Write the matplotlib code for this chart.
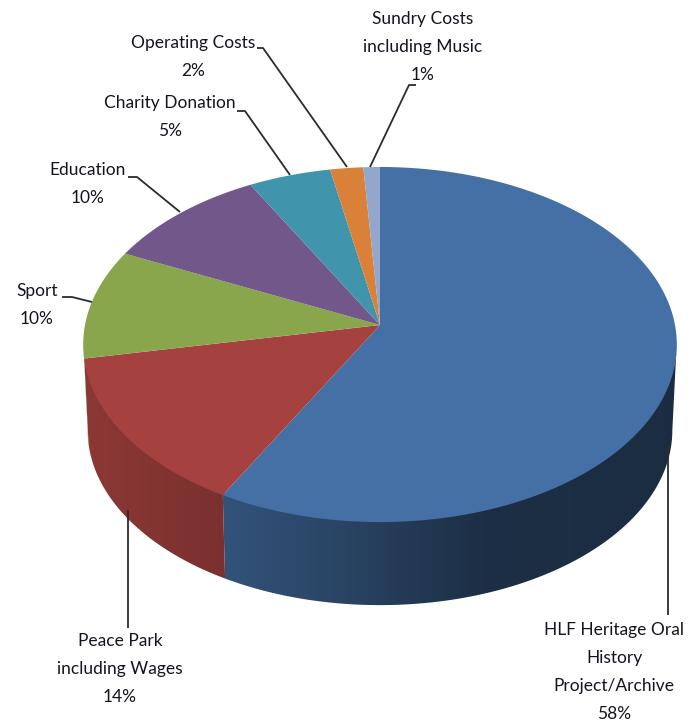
"""Budget breakdown as a fake 3D pie, Excel style."""
import matplotlib

matplotlib.use("Agg")
import matplotlib.pyplot as plt
import numpy as np

plt.rcParams["font.family"] = ["Lato", "DejaVu Sans"]

# clockwise from 12 o'clock
labels = ["HLF Heritage Oral\nHistory\nProject/Archive", "Peace Park\nincluding Wages",
          "Sport", "Education", "Charity Donation", "Operating Costs",
          "Sundry Costs\nincluding Music"]
shares = [58, 14, 10, 10, 5, 2, 1]
colors = ["#4470A5", "#A5423F", "#8AA64C", "#72578B", "#4094AC", "#D98139", "#93A7CD"]

label_x = [614, 120, 37, 88, 170, 193, 423]
label_y = [672, 669, 305, 184, 117, 57, 47]

# leader lines, in pixels of the picture
leaders = [
    [(668, 445), (668, 615)],
    [(128, 510), (128, 628)],
    [(92, 302), (72, 297), (62, 297)],
    [(180, 212), (137, 177), (128, 177)],
    [(290, 175), (245, 111), (237, 111)],
    [(347, 167), (263, 48), (257, 48)],
    [(370, 167), (409, 85), (416, 85)],
]

# perspective of the disc
CX, CY = 380, 325
RX, RY = 295, 175.4
K = 0.11
DROP = 86
BOTTOM_SCALE = 0.985

# side wall brightness against picture x
SHADE_X = [84, 224, 340, 480, 680]
SHADE = [0.85, 0.74, 0.61, 0.42, 0.40]

# the wall shows between the two widest points of the disc
WALL_FROM = np.arccos(-K)
WALL_TO = 2 * np.pi - WALL_FROM


def project(theta, bottom=False):
    u, v = np.sin(theta), np.cos(theta)
    x = RX * u / (1 + K * v)
    y = -RY * v / (1 + K * v)
    if bottom:
        return CX + BOTTOM_SCALE * x, CY + DROP + BOTTOM_SCALE * y
    return CX + x, CY + y


fig = plt.figure(figsize=(6.98, 7.24), dpi=100)
ax = fig.add_axes([0, 0, 1, 1])

edges = np.cumsum([0] + shares) / 100 * 2 * np.pi
columns = np.arange(698) + 0.5

# side wall: a horizontal gradient clipped to each visible slice
for i, color in enumerate(colors):
    start, end = max(edges[i], WALL_FROM), min(edges[i + 1], WALL_TO)
    if start >= end:
        continue
    thetas = np.linspace(start, end, 120)
    top_x, top_y = project(thetas)
    low_x, low_y = project(thetas, bottom=True)
    outline = np.column_stack([np.r_[top_x, low_x[::-1]],
                               np.r_[top_y - 3, low_y[::-1]]])
    base = np.array(matplotlib.colors.to_rgb(color))
    strip = np.outer(np.interp(columns, SHADE_X, SHADE), base)[np.newaxis, :, :]
    image = ax.imshow(strip, extent=(0, 698, 724, 0), aspect="auto", zorder=1,
                      interpolation="bilinear")
    patch = plt.Polygon(outline, closed=True, transform=ax.transData)
    image.set_clip_path(patch)

# top face
for i, color in enumerate(colors):
    thetas = np.linspace(edges[i], edges[i + 1], max(8, shares[i] * 6))
    xs, ys = project(thetas)
    ax.fill(np.r_[CX, xs], np.r_[CY, ys], color=color, lw=0, zorder=2)

for points in leaders:
    xs, ys = zip(*points)
    ax.plot(xs, ys, color="#2b2b2b", lw=1.3, zorder=3, solid_capstyle="butt")

for name, share, x, y in zip(labels, shares, label_x, label_y):
    ax.text(x, y, f"{name}\n{share}%", ha="center", va="center", fontsize=12.5,
            color="#14141f", linespacing=1.9, zorder=4)

ax.set_xlim(0, 698)
ax.set_ylim(724, 0)
ax.axis("off")

fig.savefig("out.png", dpi=100)
